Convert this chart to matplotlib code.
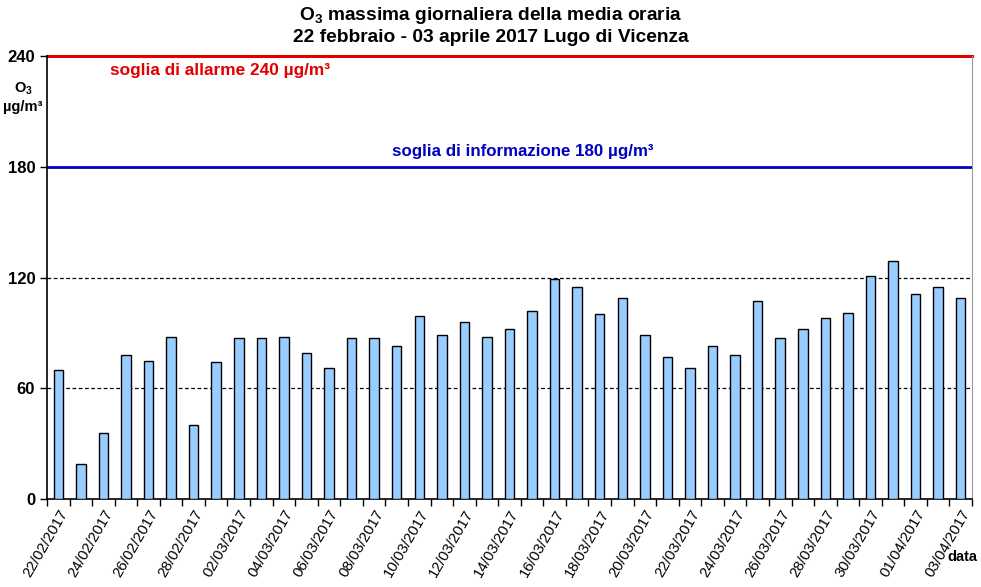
import matplotlib
matplotlib.use("Agg")
import matplotlib.pyplot as plt
import numpy as np
import datetime as dt

plt.rcParams['font.family'] = ['Liberation Sans', 'DejaVu Sans']
plt.rcParams['mathtext.fontset'] = 'custom'
plt.rcParams['mathtext.rm'] = 'Liberation Sans:bold'
plt.rcParams['mathtext.it'] = 'Liberation Sans:bold'
plt.rcParams['mathtext.bf'] = 'Liberation Sans:bold'

# massima giornaliera della media oraria O3 (ug/m3), 22/02 - 03/04/2017
start = dt.date(2017, 2, 22)
o3 = [70, 19, 36, 78, 75, 88, 40, 74, 87, 87,
      88, 79, 71, 87, 87, 83, 99, 89, 96, 88,
      92, 102, 119, 115, 100, 109, 89, 77, 71, 83,
      78, 107, 87, 92, 98, 101, 121, 129, 111, 115,
      109]
giorni = [start + dt.timedelta(days=i) for i in range(len(o3))]
etichette = [g.strftime("%d/%m/%Y") for g in giorni]

soglia_allarme = 240
soglia_info = 180
y_ticks = [0, 60, 120, 180, 240]

fig = plt.figure(figsize=(9.81, 5.87), dpi=100)
ax = fig.add_axes([47 / 981, 1 - 499 / 587, 925 / 981, 443 / 587])

x = np.arange(len(o3))
ax.bar(x, o3, width=0.42, color='#99CCFF', edgecolor='black', linewidth=1, zorder=3)

# griglia tratteggiata e soglie
for v in (60, 120):
    ax.axhline(v, color='black', linestyle=(0, (3, 2)), linewidth=0.9, zorder=1)
ax.axhline(soglia_info, color='#0000C0', linewidth=2, zorder=2)
ax.axhline(soglia_allarme, color='#E00000', linewidth=2.2, zorder=2, clip_on=False)

ax.set_xlim(-0.5, len(o3) - 0.5)
ax.set_ylim(0, 240)
ax.set_yticks(y_ticks)
ax.set_yticklabels([str(v) for v in y_ticks], fontsize=12, fontweight='bold')
ax.tick_params(axis='y', length=5, width=1, direction='out')

ax.set_xticks(x[::2])
ax.set_xticklabels(etichette[::2], rotation=60, ha='right', rotation_mode='anchor',
                   fontsize=10.8)
ax.tick_params(axis='x', which='major', length=0, pad=6)
ax.set_xticks(np.arange(-0.5, len(o3), 1), minor=True)
ax.tick_params(axis='x', which='minor', length=5, width=1, direction='out')

ax.spines['top'].set_visible(False)
ax.spines['right'].set_color('#999999')
ax.spines['left'].set_linewidth(1.2)
ax.spines['bottom'].set_linewidth(1.2)

ax.text(2.3, 232, 'soglia di allarme 240 µg/m³', color='#E00000',
        fontsize=12.4, fontweight='bold', va='center', ha='left')
ax.text(14.8, 188, 'soglia di informazione 180 µg/m³', color='#0000C0',
        fontsize=12.2, fontweight='bold', va='center', ha='left')

fig.text(23 / 981, 1 - 97 / 587, 'O$_{3}$\nµg/m³', ha='center', va='center',
         fontsize=10.5, fontweight='bold', linespacing=1.3)
fig.text(962 / 981, 1 - 557 / 587, 'data', ha='center', va='center',
         fontsize=10.5, fontweight='bold')

fig.text(0.5, 1 - 16 / 587, r'O$_{3}$ massima giornaliera della media oraria',
         ha='center', va='center', fontsize=13.8, fontweight='bold')
fig.text(0.5, 1 - 38 / 587, '22 febbraio - 03 aprile 2017 Lugo di Vicenza',
         ha='center', va='center', fontsize=13.8, fontweight='bold')

fig.savefig('out.png', dpi=100)
